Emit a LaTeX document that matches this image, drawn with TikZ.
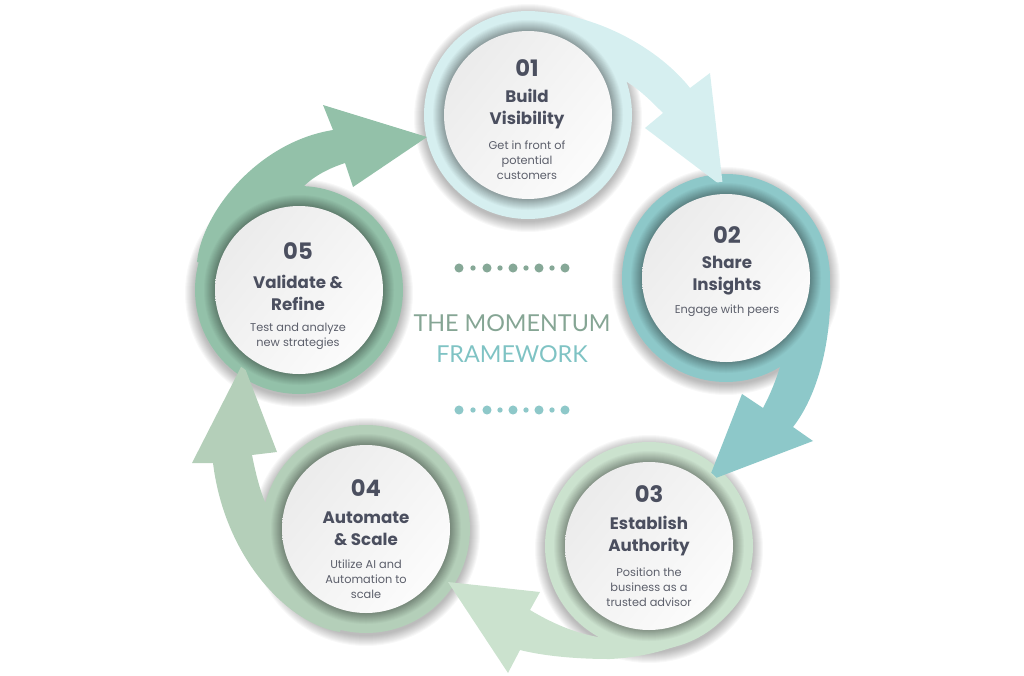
\documentclass[tikz,border=0pt]{standalone}
\usepackage{fontspec}
\usetikzlibrary{shadings}
\setmainfont{Poppins}
\newfontfamily\titlefont{Lato}
\definecolor{ring1}{HTML}{D6EFF0}
\definecolor{ring2}{HTML}{8DC8C9}
\definecolor{ring3}{HTML}{CBE2CE}
\definecolor{ring4}{HTML}{B4CFB9}
\definecolor{ring5}{HTML}{93C1A9}
\definecolor{txtdark}{HTML}{4B4F5F}
\definecolor{txtlight}{HTML}{5C5F6B}
\definecolor{titlegreen}{HTML}{85A594}
\definecolor{titleteal}{HTML}{7FC3C4}
\definecolor{dotgreen}{HTML}{86A897}
\definecolor{dotteal}{HTML}{8EC8C9}
\begin{document}
\begin{tikzpicture}[x=0.75pt,y=-0.75pt,
  ringnode/.style={circle, minimum size=156pt, inner sep=0pt},
  numtxt/.style={font=\fontsize{17}{20}\selectfont\bfseries, text=txtdark, inner sep=0pt},
  headtxt/.style={font=\fontsize{12.5}{16.5}\selectfont\bfseries, text=txtdark, align=center, inner sep=0pt},
  desctxt/.style={font=\fontsize{8.5}{11.25}\selectfont, text=txtlight, align=center, inner sep=0pt},
  bigdot/.style={circle, inner sep=0pt, minimum size=6.8pt},
  smalldot/.style={circle, inner sep=0pt, minimum size=4pt},
  titletxt/.style={font=\titlefont\fontsize{17.5}{20}\selectfont, inner sep=0pt}]
\useasboundingbox (0,0) rectangle (1024,675);

% soft halos
\foreach \x/\y in {528/115, 726/278, 649/546, 366/529, 299/290}{
  \foreach \k in {1,...,11}{\fill[black, opacity=0.028] (\x,\y+3) circle[radius=103+\k];}
}
% rings
\foreach \i/\x/\y in {1/528/115, 2/726/278, 3/649/546, 4/366/529, 5/299/290}{
  \node[ringnode, fill=ring\i] (ring\i) at (\x,\y) {};
}

% arrows
\fill[ring1] (540,12) .. controls (600,15) and (660,50) .. (690,88) -- (710,73) -- (723,187) -- (645,128) -- (663,113)
  .. controls (650,100) and (640,90) .. (627,82) -- (528,115) -- cycle;
\fill[ring2] (830,285) .. controls (832,340) and (818,395) .. (793,427) -- (813,441) -- (708,481) -- (742,394) -- (763,408)
  .. controls (770,395) and (776,380) .. (780,367) -- (726,278) -- cycle;
\fill[ring3] (752,570) .. controls (745,615) and (690,655) .. (610,659) .. controls (570,659) and (540,655) .. (520,650)
  -- (508,673) -- (448,582) -- (540,592) -- (530,610) .. controls (555,625) and (580,635) .. (605,638) -- (649,546) -- cycle;
\fill[ring4] (340,632) .. controls (290,625) and (225,560) .. (213,463) -- (192,463) -- (243,363) -- (277,452) -- (252,455)
  .. controls (256,475) and (260,490) .. (265,502) -- (366,529) -- cycle;
\fill[ring5] (197,262) .. controls (202,212) and (258,142) .. (333,130) -- (323,105) -- (427,137) -- (353,187) -- (345,163)
  .. controls (330,168) and (315,175) .. (303,187) -- (299,290) -- cycle;

% inner shadows and white disks
\foreach \i/\x/\y in {1/528/115, 2/726/278, 3/649/546, 4/366/529, 5/299/290}{
  \foreach \k in {0,...,12}{
    \pgfmathtruncatemacro\pct{100-3*\k}
    \fill[ring\i!\pct!black] (\x,\y) circle[radius=96-\k];
  }
  \shade[upper left=black!9, lower right=white, upper right=black!4, lower left=black!5] (\x,\y) circle[radius=84];
}

% texts
\node[numtxt] (n1) at (527,68) {01};
\node[headtxt] (t1) at (527,109) {Build\\Visibility};
\node[desctxt] (d1) at (527,160) {Get in front of\\potential\\customers};

\node[numtxt] (n2) at (727,235) {02};
\node[headtxt] (t2) at (727,276) {Share\\Insights};
\node[desctxt] (d2) at (727,311) {Engage with peers};

\node[numtxt] (n3) at (649,494) {03};
\node[headtxt] (t3) at (649,536) {Establish\\Authority};
\node[desctxt] (d3) at (649,587) {Position the\\business as a\\trusted advisor};

\node[numtxt] (n4) at (366,488) {04};
\node[headtxt] (t4) at (366,529) {Automate\\\& Scale};
\node[desctxt] (d4) at (366,579) {Utilize AI and\\Automation to\\scale};

\node[numtxt] (n5) at (298,251) {05};
\node[headtxt] (t5) at (298,293) {Validate \&\\Refine};
\node[desctxt] (d5) at (298,336) {Test and analyze\\new strategies};

% center title
\node[titletxt, text=titlegreen] (title1) at (512,323) {THE MOMENTUM};
\node[titletxt, text=titleteal] (title2) at (512,354) {FRAMEWORK};

% dots
\foreach \j/\x in {1/459, 3/487, 5/513, 7/539, 9/565}{
  \node[bigdot, fill=dotgreen] (td\j) at (\x,268) {};
  \node[bigdot, fill=dotteal] (bd\j) at (\x,410) {};
}
\foreach \j/\x in {2/473, 4/500, 6/526, 8/552}{
  \node[smalldot, fill=dotgreen] (td\j) at (\x,268) {};
  \node[smalldot, fill=dotteal] (bd\j) at (\x,410) {};
}
\end{tikzpicture}
\end{document}
